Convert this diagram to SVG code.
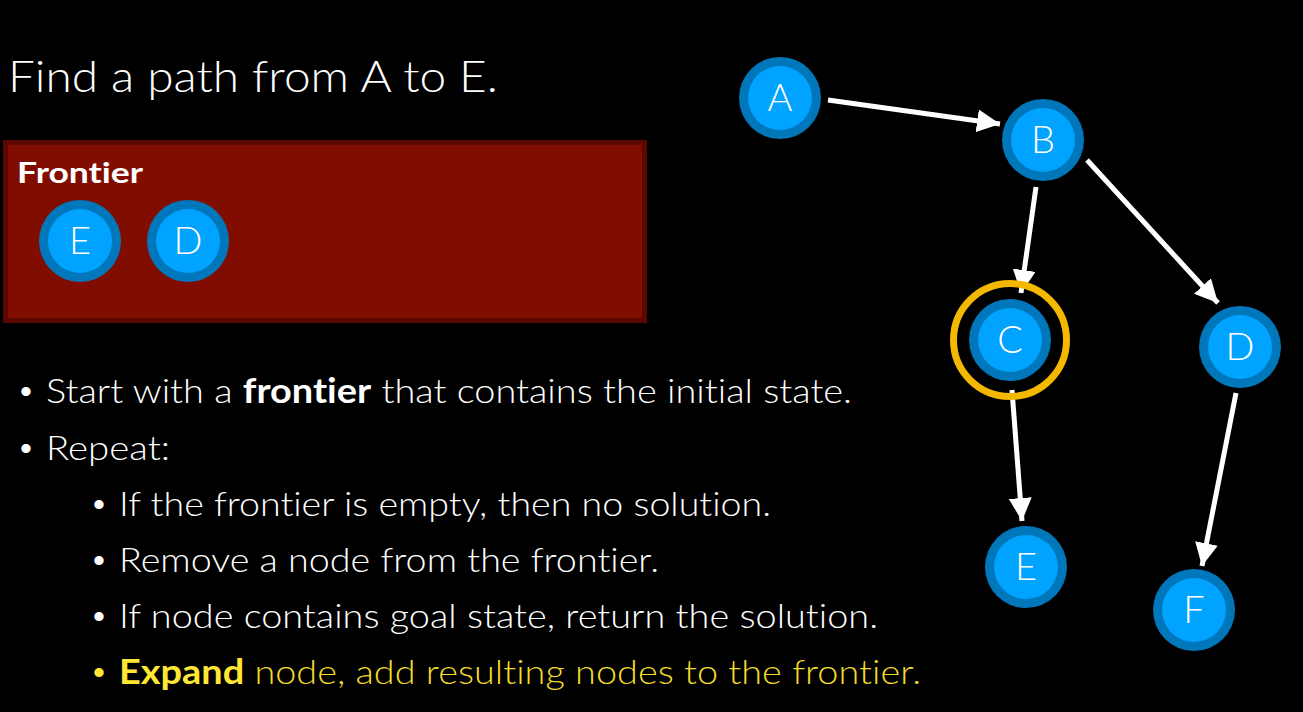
<svg xmlns="http://www.w3.org/2000/svg" width="1303" height="712" viewBox="0 0 1303 712">
  <defs>
    <style>
      .t { font-family: "Lato", "Open Sans", "Liberation Sans", sans-serif; font-weight: 300; fill: #ffffff; font-variant-ligatures: none; font-feature-settings: "liga" 0, "clig" 0; }
      .b { font-weight: 700; }
      .dot { font-family: "Liberation Sans", sans-serif; font-size: 34px; fill: #ffffff; }
      .ring { fill: #0077bb; }
      .core { fill: #00a3ff; }
      .lbl { font-family: "Lato", "Open Sans", "Liberation Sans", sans-serif; font-weight: 300; font-size: 38px; fill: #ffffff; text-anchor: middle; }
      .edge { stroke: #ffffff; stroke-width: 5; fill: none; }
      .yel { fill: #f2dc2a; }
      .yelb { fill: #ffe733; font-weight: 700; }
    </style>
    <marker id="arrow" viewBox="0 0 10 10" refX="10" refY="5" markerWidth="4.6" markerHeight="4.6" markerUnits="strokeWidth" orient="auto">
      <path d="M0,0 L10,5 L0,10 Z" fill="#ffffff"/>
    </marker>
  </defs>

  <rect width="1303" height="712" fill="#000000"/>

  <!-- heading -->
  <text class="t" x="8" y="92" font-size="43" textLength="490" lengthAdjust="spacingAndGlyphs">Find a path from A to E.</text>

  <!-- frontier panel -->
  <g id="frontier">
    <rect x="3" y="140" width="644" height="183" fill="#5a0800"/>
    <rect x="8" y="145" width="634" height="173" fill="#800d00"/>
    <text class="t b" x="17" y="183" font-size="29" textLength="126" lengthAdjust="spacingAndGlyphs">Frontier</text>
  </g>
  <g id="frontier-E">
    <circle class="ring" cx="80" cy="241" r="41"/>
    <circle class="core" cx="80" cy="241" r="32"/>
    <text class="lbl" x="80" y="254">E</text>
  </g>
  <g id="frontier-D">
    <circle class="ring" cx="188" cy="241" r="41"/>
    <circle class="core" cx="188" cy="241" r="32"/>
    <text class="lbl" x="188" y="254">D</text>
  </g>

  <!-- algorithm steps -->
  <g id="steps" font-size="34">
    <text class="dot" x="20" y="403">•</text>
    <text class="t" x="46" y="403" textLength="806" lengthAdjust="spacingAndGlyphs">Start with a <tspan class="b">frontier</tspan> that contains the initial state.</text>
    <text class="dot" x="20" y="460">•</text>
    <text class="t" x="46" y="460" textLength="124" lengthAdjust="spacingAndGlyphs">Repeat:</text>
    <text class="dot" x="93" y="516">•</text>
    <text class="t" x="119" y="516" textLength="652" lengthAdjust="spacingAndGlyphs">If the frontier is empty, then no solution.</text>
    <text class="dot" x="93" y="572">•</text>
    <text class="t" x="119" y="572" textLength="540" lengthAdjust="spacingAndGlyphs">Remove a node from the frontier.</text>
    <text class="dot" x="93" y="628">•</text>
    <text class="t" x="119" y="628" textLength="759" lengthAdjust="spacingAndGlyphs">If node contains goal state, return the solution.</text>
    <text class="dot" x="93" y="684" fill="#ffe733" style="fill:#ffe733">•</text>
    <text class="t yel" x="119" y="684" textLength="802" lengthAdjust="spacingAndGlyphs"><tspan class="yelb">Expand</tspan> node, add resulting nodes to the frontier.</text>
  </g>

  <!-- connectors -->
  <g id="edges">
    <line class="edge" x1="828" y1="100" x2="1000" y2="124" marker-end="url(#arrow)"/>
    <line class="edge" x1="1036" y1="187" x2="1021" y2="293" marker-end="url(#arrow)"/>
    <line class="edge" x1="1087" y1="160" x2="1218" y2="303" marker-end="url(#arrow)"/>
    <line class="edge" x1="1012" y1="390" x2="1022" y2="521" marker-end="url(#arrow)"/>
    <line class="edge" x1="1236" y1="393" x2="1202" y2="566" marker-end="url(#arrow)"/>
  </g>

  <!-- graph nodes -->
  <g id="node-A">
    <circle class="ring" cx="780" cy="98" r="41"/>
    <circle class="core" cx="780" cy="98" r="32"/>
    <text class="lbl" x="780" y="111">A</text>
  </g>
  <g id="node-B">
    <circle class="ring" cx="1043" cy="140" r="41"/>
    <circle class="core" cx="1043" cy="140" r="32"/>
    <text class="lbl" x="1043" y="153">B</text>
  </g>
  <g id="node-C">
    <circle cx="1010" cy="340" r="56.5" fill="none" stroke="#f5b800" stroke-width="7"/>
    <circle class="ring" cx="1010" cy="340" r="41"/>
    <circle class="core" cx="1010" cy="340" r="32"/>
    <text class="lbl" x="1010" y="353">C</text>
  </g>
  <g id="node-D">
    <circle class="ring" cx="1240" cy="347" r="41"/>
    <circle class="core" cx="1240" cy="347" r="32"/>
    <text class="lbl" x="1240" y="360">D</text>
  </g>
  <g id="node-E">
    <circle class="ring" cx="1026" cy="567" r="41"/>
    <circle class="core" cx="1026" cy="567" r="32"/>
    <text class="lbl" x="1026" y="580">E</text>
  </g>
  <g id="node-F">
    <circle class="ring" cx="1194" cy="610" r="41"/>
    <circle class="core" cx="1194" cy="610" r="32"/>
    <text class="lbl" x="1194" y="623">F</text>
  </g>
</svg>
